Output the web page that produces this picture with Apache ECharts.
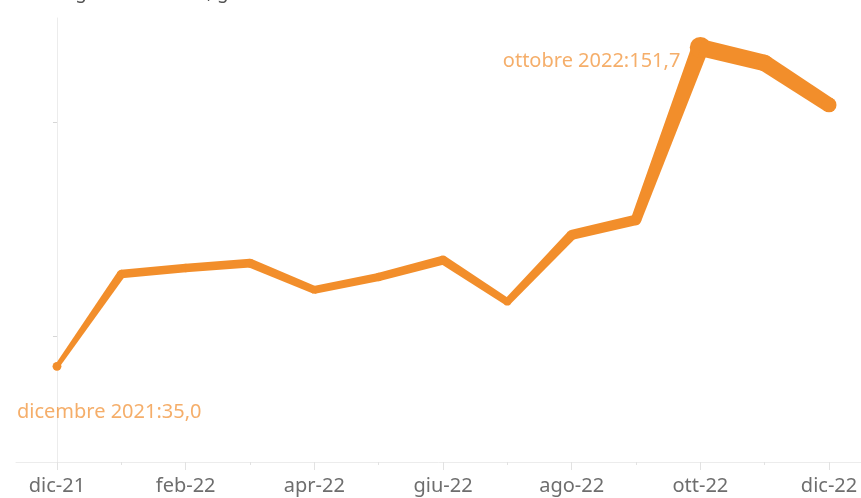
<!DOCTYPE html>
<html>
<head>
<meta charset="utf-8">
<script src="https://cdn.jsdelivr.net/npm/echarts@6/dist/echarts.min.js"></script>
<style>
  html, body { margin: 0; padding: 0; background: #fff; }
  #chart { width: 861px; height: 498px; }
</style>
</head>
<body>
<div id="chart"></div>
<script>
// dati
const monthLabels = ["dic-21", "gen-22", "feb-22", "mar-22", "apr-22", "mag-22", "giu-22",
                     "lug-22", "ago-22", "set-22", "ott-22", "nov-22", "dic-22"];
const monthNames = ["dicembre 2021", "gennaio 2022", "febbraio 2022", "marzo 2022", "aprile 2022",
                    "maggio 2022", "giugno 2022", "luglio 2022", "agosto 2022", "settembre 2022",
                    "ottobre 2022", "novembre 2022", "dicembre 2022"];
const values = [35.0, 68.8, 71.0, 72.8, 63.0, 67.7, 73.9, 58.6, 83.1, 88.6, 151.7, 146.0, 130.7];
const labelled = [0, 10];          // punti con etichetta
const yTicks = [46, 124.4];
const xTicksAll = [0, 1, 2, 3, 4, 5, 6, 7, 8, 9, 10, 11, 12];
const xTicksMajor = [0, 2, 4, 6, 8, 10, 12];

const lineColor = "#F28E2B";
const labelColor = "#F39A45";
const axisColor = "#ececec";
const fontName = "Noto Sans";

// spessore della linea proporzionale al valore
const widthOf = v => 1.2 + 0.105 * v;
const fmt = v => v.toFixed(1).replace(".", ",");

const chart = echarts.init(document.getElementById("chart"));

const option = {
    animation: false,
    title: {
        text: "Media gas naturale IT, gen-dic 2022",
        left: 10,
        top: -22,
        textStyle: { color: "#555", fontSize: 19, fontWeight: "normal", fontFamily: fontName }
    },
    grid: { left: 16, right: 0, top: 18, bottom: 36, containLabel: false, outerBoundsMode: "none" },
    xAxis: [
        {
            type: "value",
            min: -0.637,
            max: 12.497,
            axisLine: { show: true, lineStyle: { color: axisColor } },
            axisTick: { show: true, length: 3, customValues: xTicksAll, lineStyle: { color: "#e2e2e2" } },
            axisLabel: {
                customValues: xTicksMajor,
                margin: 14,
                color: "#6e6e6e",
                fontSize: 20,
                fontFamily: fontName,
                formatter: v => monthLabels[Math.round(v)]
            },
            splitLine: { show: false }
        },
        {
            type: "value",
            position: "bottom",
            min: -0.637,
            max: 12.497,
            axisLine: { show: false },
            axisTick: { show: true, length: 8, customValues: xTicksMajor, lineStyle: { color: "#e2e2e2" } },
            axisLabel: { show: false },
            splitLine: { show: false }
        }
    ],
    yAxis: [
        {
            type: "value",
            min: 0,
            max: 162.5,
            offset: 12,
            axisLine: { show: false },
            axisTick: { show: true, length: 4, customValues: yTicks, lineStyle: { color: "#d6d6d6" } },
            axisLabel: { show: false },
            splitLine: { show: false }
        },
        {
            type: "value",
            position: "left",
            offset: 0,
            min: 0,
            max: 162.5,
            axisLine: { show: true, lineStyle: { color: axisColor } },
            axisTick: { show: false },
            axisLabel: { show: false },
            splitLine: { show: false }
        }
    ],
    series: [
        {
            type: "custom",
            xAxisIndex: 0,
            yAxisIndex: 0,
            data: values.map((v, i) => [i, v]),
            encode: { x: 0, y: 1 },
            renderItem: function (params, api) {
                const i = params.dataIndex;
                const p0 = api.coord([i, values[i]]);
                const w0 = widthOf(values[i]);
                const r0 = labelled.includes(i) ? w0 / 2 + 2 : w0 / 2;
                const children = [{
                    type: "circle",
                    shape: { cx: p0[0], cy: p0[1], r: r0 },
                    style: { fill: lineColor }
                }];
                if (i < values.length - 1) {
                    const p1 = api.coord([i + 1, values[i + 1]]);
                    const w1 = widthOf(values[i + 1]);
                    const dx = p1[0] - p0[0], dy = p1[1] - p0[1];
                    const len = Math.sqrt(dx * dx + dy * dy);
                    const nx = -dy / len, ny = dx / len;
                    children.push({
                        type: "polygon",
                        shape: {
                            points: [
                                [p0[0] + nx * w0 / 2, p0[1] + ny * w0 / 2],
                                [p1[0] + nx * w1 / 2, p1[1] + ny * w1 / 2],
                                [p1[0] - nx * w1 / 2, p1[1] - ny * w1 / 2],
                                [p0[0] - nx * w0 / 2, p0[1] - ny * w0 / 2]
                            ]
                        },
                        style: { fill: lineColor }
                    });
                }
                return { type: "group", children: children };
            }
        },
        {
            type: "scatter",
            symbolSize: 0,
            data: labelled.map(i => ({
                value: [i, values[i]],
                label: i === 0
                    ? { align: "left", offset: [-40, 46] }
                    : { align: "right", offset: [-20, 14] }
            })),
            label: {
                show: true,
                position: "inside",
                color: labelColor,
                fontSize: 20,
                fontFamily: fontName,
                formatter: p => monthNames[p.value[0]] + ":" + fmt(p.value[1])
            },
            z: 5
        }
    ]
};

chart.setOption(option);
</script>
</body>
</html>
